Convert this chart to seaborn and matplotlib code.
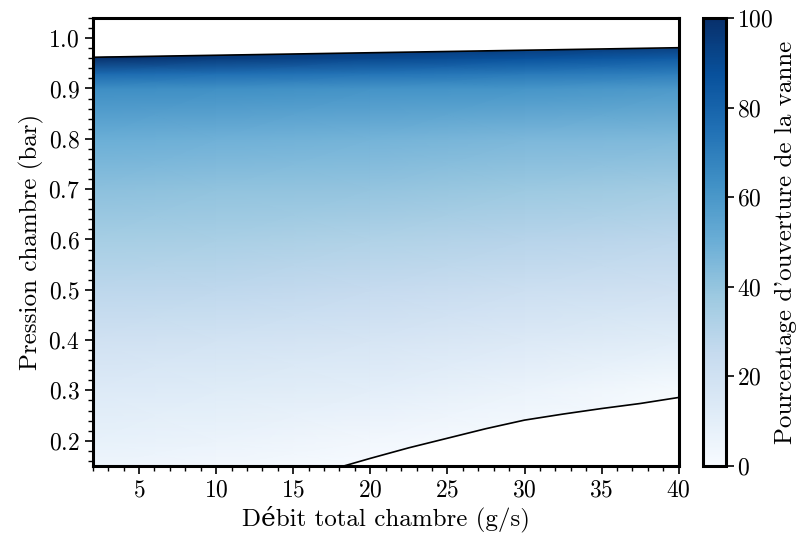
import matplotlib
matplotlib.use('Agg')
import matplotlib.pyplot as plt
from matplotlib.patches import Polygon
from matplotlib.ticker import MultipleLocator
import numpy as np
import seaborn as sns

# grille : debit (g/s) x pression (bar) -> ouverture (%)
debit = [2, 10, 20, 30, 40]
pression = [0.15, 0.2, 0.3, 0.4, 0.5, 0.6, 0.7, 0.8, 0.9, 0.93, 0.96, 0.99]
ouverture = [
    [5, 3, -1, -8, -15],
    [8, 6, 3, -4, -10],
    [13, 12, 10, 6, 1],
    [20, 19, 17, 14, 11],
    [28, 27, 25, 22, 20],
    [35, 34, 32, 30, 28],
    [42, 41, 40, 38, 36],
    [50, 49, 48, 46, 45],
    [64, 63, 62, 61, 59],
    [78, 76, 74, 72, 70],
    [99, 95, 91, 87, 83],
    [115, 110, 106, 102, 98],
]

# limites (ouverture 100 % en haut, 0 % en bas)
haut_debit = [2, 40]
haut_pression = [0.962, 0.981]
bas_debit = [18.3, 20, 22.5, 25, 27.5, 30, 32.5, 35, 37.5, 40]
bas_pression = [0.15, 0.165, 0.186, 0.205, 0.224, 0.241, 0.253, 0.264, 0.274, 0.286]

cb_ticks = [0, 20, 40, 60, 80, 100]


def main():
    sns.set_style('ticks')
    plt.rcParams['font.family'] = ['cmr10', 'DejaVu Serif']
    plt.rcParams['mathtext.fontset'] = 'cm'
    plt.rcParams['axes.formatter.use_mathtext'] = True
    plt.rcParams['axes.unicode_minus'] = False
    for k in ['text.color', 'axes.labelcolor', 'axes.edgecolor',
              'xtick.color', 'ytick.color']:
        plt.rcParams[k] = 'black'

    fig = plt.figure(figsize=(8.07, 5.38), dpi=100)
    ax = fig.add_axes([0.115, 0.134, 0.726, 0.8325])
    cax = fig.add_axes([0.8715, 0.134, 0.028, 0.8325])

    X, Y = np.meshgrid(debit, pression)
    Z = np.array(ouverture, dtype=float)
    mesh = ax.pcolormesh(X, Y, Z, shading='gouraud', cmap='Blues',
                         vmin=0, vmax=100, rasterized=True)

    # zone valide entre les deux courbes
    contour = list(zip(bas_debit, bas_pression))
    contour += list(zip(haut_debit[::-1], haut_pression[::-1]))
    contour += [(haut_debit[0], bas_pression[0])]
    poly = Polygon(contour, closed=True, transform=ax.transData,
                   facecolor='none', edgecolor='none')
    ax.add_patch(poly)
    mesh.set_clip_path(poly)

    sns.lineplot(x=haut_debit, y=haut_pression, color='k', lw=1.2, ax=ax)
    sns.lineplot(x=bas_debit, y=bas_pression, color='k', lw=1.2, ax=ax)

    ax.set_xlim(2, 40)
    ax.set_ylim(0.15, 1.04)
    ax.xaxis.set_major_locator(MultipleLocator(5))
    ax.xaxis.set_minor_locator(MultipleLocator(1))
    ax.yaxis.set_major_locator(MultipleLocator(0.1))
    ax.yaxis.set_minor_locator(MultipleLocator(0.02))
    ax.tick_params(which='major', length=6, width=1.2, labelsize=17)
    ax.tick_params(which='minor', length=3.5, width=1.0)
    for s in ax.spines.values():
        s.set_linewidth(2.2)
        s.set_visible(True)
    ax.set_xlabel('Débit total chambre (g/s)', fontsize=18, labelpad=3)
    ax.set_ylabel('Pression chambre (bar)', fontsize=18, labelpad=3)

    cb = fig.colorbar(mesh, cax=cax, ticks=cb_ticks)
    cb.outline.set_linewidth(2.2)
    cb.ax.tick_params(length=6, width=1.2, labelsize=17, pad=2)
    cb.ax.minorticks_off()
    cb.set_label("Pourcentage d'ouverture de la vanne", fontsize=18, labelpad=1)

    fig.savefig('out.png', dpi=100)


main()
